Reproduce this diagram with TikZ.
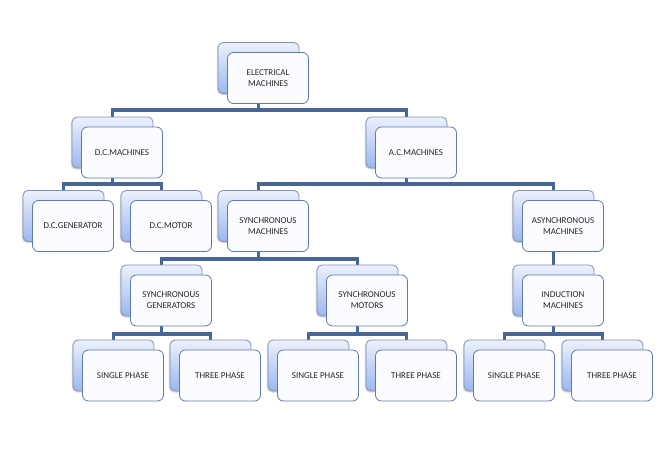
\documentclass[tikz,border=0pt]{standalone}
\usepackage{fontspec}
\setmainfont{Carlito}
\usetikzlibrary{shadows}
\definecolor{linec}{RGB}{70,102,150}
\definecolor{backtop}{RGB}{236,241,252}
\definecolor{backbot}{RGB}{155,182,240}
\definecolor{backdraw}{RGB}{128,144,178}
\definecolor{frontdraw}{RGB}{95,122,165}
\definecolor{frontfill}{RGB}{251,252,255}
\pgfdeclarelayer{bg}
\pgfsetlayers{bg,main}
\begin{document}
\begin{tikzpicture}[x=1pt,y=-1pt,
  backbox/.style={draw=backdraw, line width=0.8pt, rounded corners=5pt,
    top color=backtop, bottom color=backbot,
    minimum width=81pt, minimum height=51pt, inner sep=0pt,
    drop shadow={shadow xshift=-1.2pt, shadow yshift=-1.5pt, opacity=0.3}},
  frontbox/.style={draw=frontdraw, line width=0.8pt, rounded corners=6pt,
    fill=frontfill, minimum width=81pt, minimum height=51pt, inner sep=1pt,
    align=center, font=\fontsize{9}{11}\selectfont, text=black!85},
  conn/.style={draw=linec, line width=3.4pt}]
\useasboundingbox (0,0) rectangle (666,461);
% bus levels
\coordinate (y1) at (0,110);
\coordinate (y2) at (0,184);
\coordinate (y3) at (0,259);
\coordinate (y4) at (0,334);
% level 0
\node[backbox] (emb) at (258.5,68) {};
\node[frontbox] (em) at (268,78) {ELECTRICAL\\MACHINES};
% level 1
\node[backbox] (dcb) at (112.5,142.5) {};
\node[frontbox] (dc) at (122,152.5) {D.C.MACHINES};
\node[backbox] (acb) at (406.5,142.5) {};
\node[frontbox] (ac) at (416,152.5) {A.C.MACHINES};
% level 2
\node[backbox] (dcgb) at (63.5,216) {};
\node[frontbox] (dcg) at (73,226) {D.C.GENERATOR};
\node[backbox] (dcmb) at (161.5,216) {};
\node[frontbox] (dcm) at (171,226) {D.C.MOTOR};
\node[backbox] (synb) at (258.5,216) {};
\node[frontbox] (syn) at (268,226) {SYNCHRONOUS\\MACHINES};
\node[backbox] (asyb) at (553.5,216) {};
\node[frontbox] (asy) at (563,226) {ASYNCHRONOUS\\MACHINES};
% level 3
\node[backbox] (sgb) at (161.5,290.5) {};
\node[frontbox] (sg) at (171,300.5) {SYNCHRONOUS\\GENERATORS};
\node[backbox] (smb) at (357.5,290.5) {};
\node[frontbox] (sm) at (367,300.5) {SYNCHRONOUS\\MOTORS};
\node[backbox] (imb) at (553.5,290.5) {};
\node[frontbox] (im) at (563,300.5) {INDUCTION\\MACHINES};
% level 4
\node[backbox] (sp1b) at (113.5,365.5) {};
\node[frontbox] (sp1) at (123,375.5) {SINGLE PHASE};
\node[backbox] (tp1b) at (210.5,365.5) {};
\node[frontbox] (tp1) at (220,375.5) {THREE PHASE};
\node[backbox] (sp2b) at (308.5,365.5) {};
\node[frontbox] (sp2) at (318,375.5) {SINGLE PHASE};
\node[backbox] (tp2b) at (406.5,365.5) {};
\node[frontbox] (tp2) at (416,375.5) {THREE PHASE};
\node[backbox] (sp3b) at (504.5,365.5) {};
\node[frontbox] (sp3) at (514,375.5) {SINGLE PHASE};
\node[backbox] (tp3b) at (602.5,365.5) {};
\node[frontbox] (tp3) at (612,375.5) {THREE PHASE};
% connectors
\begin{pgfonlayer}{bg}
\fill[white] (0,0) rectangle (666,461);
\draw[conn] (emb.south) -- (emb.south |- y1);
\draw[conn] (dcb.north) |- (emb.south |- y1) -| (acb.north);
\draw[conn] (dcb.south) -- (dcb.south |- y2);
\draw[conn] (dcgb.north) |- (dcb.south |- y2) -| (dcmb.north);
\draw[conn] (acb.south) -- (acb.south |- y2);
\draw[conn] (synb.north) |- (acb.south |- y2) -| (asyb.north);
\draw[conn] (synb.south) -- (synb.south |- y3);
\draw[conn] (sgb.north) |- (synb.south |- y3) -| (smb.north);
\draw[conn] (asyb.south) -- (imb.north);
\draw[conn] (sgb.south) -- (sgb.south |- y4);
\draw[conn] (sp1b.north) |- (sgb.south |- y4) -| (tp1b.north);
\draw[conn] (smb.south) -- (smb.south |- y4);
\draw[conn] (sp2b.north) |- (smb.south |- y4) -| (tp2b.north);
\draw[conn] (imb.south) -- (imb.south |- y4);
\draw[conn] (sp3b.north) |- (imb.south |- y4) -| (tp3b.north);
\end{pgfonlayer}
\end{tikzpicture}
\end{document}
